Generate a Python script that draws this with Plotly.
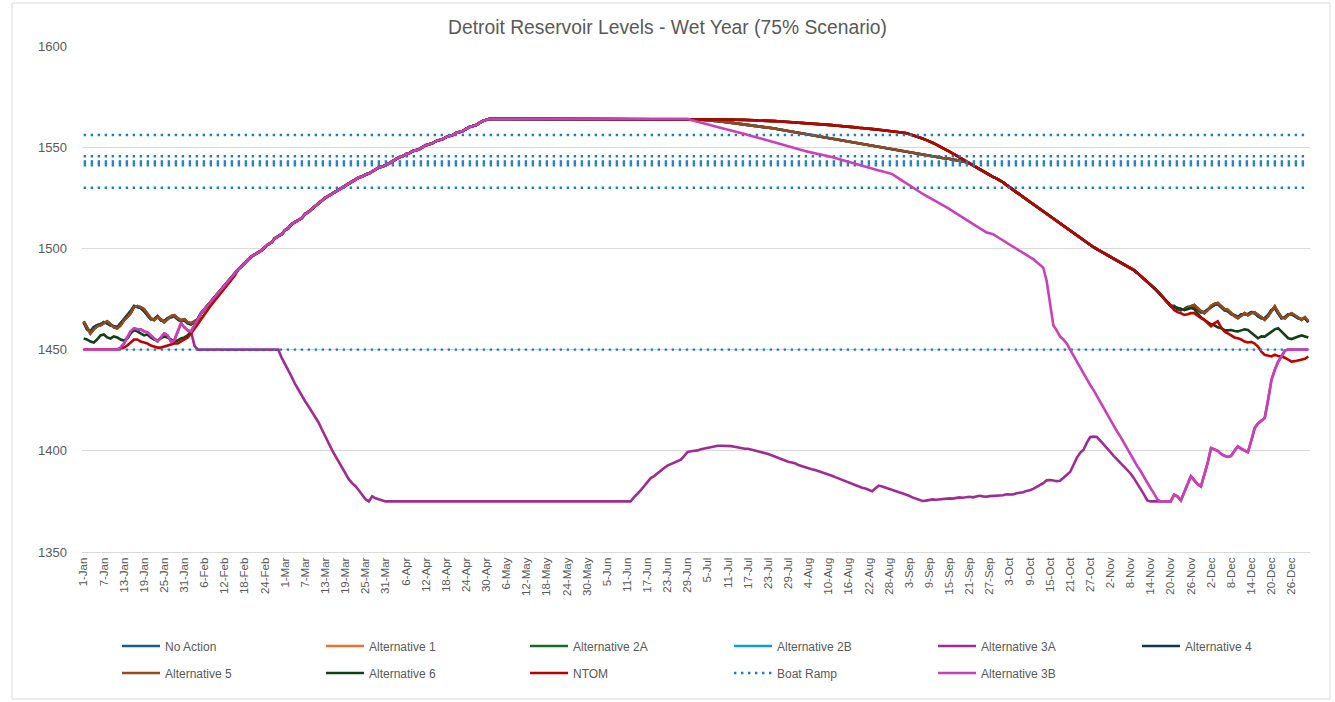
import pandas as pd
import plotly.graph_objects as go

# ---------------- categories (leap-year daily axis) ----------------
days = pd.date_range("2024-01-01", "2024-12-31", freq="D")
dates = [f"{d.day}-{d.strftime('%b')}" for d in days]
tick_labels = dates[::6]

# ---------------- data segments (feet) ----------------
jan_high = [1464, 1461, 1458, 1460, 1461.5, 1462, 1463, 1464, 1462.5, 1461,
            1460.5, 1462, 1464.5, 1466, 1468, 1471, 1471.5, 1471, 1470, 1467.5,
            1465.5, 1464.5, 1466, 1465, 1463.5, 1465, 1466.5, 1467, 1465.5, 1464.5,
            1465, 1463.5, 1463, 1464]
jan_high_b = [1463.5, 1460, 1459, 1461, 1462, 1462.5, 1463.5, 1463, 1462, 1461.5,
              1461, 1463, 1465, 1466.5, 1469, 1471.5, 1471, 1470.5, 1469, 1467,
              1465, 1465, 1466.5, 1464.5, 1464, 1465.5, 1466, 1466.5, 1465, 1464,
              1464.5, 1463, 1462.5, 1464]
jan_alt6 = [1455.5, 1455, 1454, 1453.5, 1455, 1457, 1457.5, 1456, 1455.5, 1456.5,
            1456, 1455, 1454.5, 1455.5, 1458, 1459.5, 1459, 1458, 1457, 1457.5,
            1456, 1455, 1454.5, 1455.5, 1456.5, 1456, 1455, 1454, 1454.5, 1455.5,
            1456, 1457, 1459, 1462]
ntom_winter = [1450, 1450, 1450, 1450, 1450, 1450, 1450, 1450, 1450, 1450,
               1450, 1450.5, 1451, 1452, 1453.5, 1455, 1455, 1454, 1453.5, 1453,
               1452, 1451.5, 1451, 1451, 1451.5, 1452, 1452.5, 1453, 1453, 1454,
               1455, 1456, 1458, 1460, 1462.5, 1465, 1467.5, 1470, 1472, 1474,
               1476, 1478, 1480, 1482, 1484.5, 1486.5]
refill = [1465, 1468, 1470, 1472, 1474, 1476, 1478, 1480, 1482, 1484,
          1486, 1488, 1489.5, 1491, 1493, 1494.5, 1496, 1497, 1498, 1499,
          1500.5, 1502, 1503, 1505, 1506, 1507, 1509, 1510, 1512, 1513,
          1514, 1515, 1517, 1518, 1519.5, 1521, 1522.5, 1524, 1525, 1526,
          1527, 1528, 1529, 1530, 1531, 1532, 1533, 1534, 1535, 1535.5,
          1536.5, 1537, 1538, 1539, 1540, 1540.5, 1541, 1542, 1543, 1544,
          1545, 1545.5, 1546.5, 1547, 1548, 1548.5, 1549, 1550, 1551, 1551.5,
          1552, 1553, 1553.5, 1554, 1555, 1555.5, 1556, 1557, 1557.5, 1558,
          1559, 1560, 1560.5, 1561, 1562, 1563, 1563.5]
full_pool = [1564, 1564, 1564, 1564, 1564, 1564, 1564, 1564, 1564, 1564,
             1564, 1564, 1564, 1564, 1564, 1564, 1564, 1564, 1564, 1564,
             1564, 1564, 1564, 1564, 1564, 1564, 1564, 1564, 1564, 1564,
             1564, 1564, 1564, 1564, 1564, 1564, 1564, 1564, 1564, 1564,
             1564, 1564, 1564, 1564, 1564, 1564, 1564, 1564, 1564, 1564,
             1564, 1564, 1564, 1564, 1564, 1564, 1564, 1564, 1564, 1564]
summer_upper = [1564, 1564, 1564, 1563.9, 1563.9, 1563.9, 1563.8, 1563.8, 1563.8, 1563.8,
                1563.7, 1563.7, 1563.7, 1563.6, 1563.6, 1563.5, 1563.5, 1563.4, 1563.4, 1563.3,
                1563.2, 1563.2, 1563.1, 1563.1, 1563, 1562.9, 1562.8, 1562.7, 1562.6, 1562.5,
                1562.4, 1562.3, 1562.2, 1562.1, 1562, 1561.9, 1561.7, 1561.6, 1561.4, 1561.3,
                1561.2, 1561, 1560.9, 1560.7, 1560.6, 1560.4, 1560.3, 1560.1, 1560, 1559.8,
                1559.6, 1559.5, 1559.3, 1559.2, 1559, 1558.8, 1558.6, 1558.4, 1558.2, 1558,
                1557.8, 1557.7, 1557.5, 1557.2, 1557, 1556.5, 1556, 1555.5, 1555, 1554.3,
                1553.6, 1553, 1552.2, 1551.4, 1550.6, 1549.8, 1548.9, 1548, 1547, 1546,
                1545, 1544, 1543]
summer_lower = [1563.9, 1563.8, 1563.7, 1563.6, 1563.5, 1563.3, 1563.2, 1563, 1562.9, 1562.7,
                1562.5, 1562.3, 1562.1, 1561.9, 1561.7, 1561.5, 1561.3, 1561.1, 1560.9, 1560.7,
                1560.5, 1560.2, 1560, 1559.7, 1559.5, 1559.2, 1558.9, 1558.6, 1558.3, 1558,
                1557.7, 1557.4, 1557.1, 1556.8, 1556.5, 1556.2, 1555.9, 1555.6, 1555.3, 1555,
                1554.7, 1554.4, 1554.2, 1553.9, 1553.6, 1553.3, 1553, 1552.8, 1552.5, 1552.2,
                1551.9, 1551.6, 1551.4, 1551.1, 1550.8, 1550.5, 1550.2, 1549.9, 1549.6, 1549.3,
                1549, 1548.7, 1548.4, 1548.1, 1547.8, 1547.5, 1547.2, 1546.9, 1546.5, 1546.2,
                1546, 1545.7, 1545.5, 1545.2, 1545, 1544.7, 1544.5, 1544.2, 1544, 1543.8,
                1543.4, 1543, 1542.5]
fall_drawdown = [1542, 1541, 1540, 1539, 1538, 1537, 1536, 1535.3, 1534.6, 1533.8,
                 1532.7, 1531.4, 1530.1, 1529, 1527.8, 1526.6, 1525.4, 1524.2, 1523, 1521.8,
                 1520.7, 1519.5, 1518.3, 1517.2, 1516, 1514.8, 1513.6, 1512.4, 1511.2, 1510,
                 1508.8, 1507.6, 1506.5, 1505.3, 1504.1, 1502.9, 1501.7, 1500.6, 1499.6, 1498.7,
                 1497.8, 1496.9, 1495.9, 1495, 1494.1, 1493.2, 1492.2, 1491.3, 1490.3, 1489.3,
                 1487.9, 1486.5, 1485, 1483.6, 1482.1, 1480.5, 1478.9, 1477.2, 1475.5, 1473.6,
                 1471.6]
dec_high = [1471, 1470.5, 1470, 1469.6, 1470.5, 1471.5, 1472, 1470.5, 1469, 1468,
            1469.5, 1471.5, 1472.5, 1473, 1471.5, 1470, 1469.6, 1468, 1466.5, 1465.5,
            1467, 1468, 1467, 1468, 1468.4, 1467, 1466, 1464.7, 1466.5, 1469,
            1471.3, 1468.5, 1466, 1465.5, 1467, 1468, 1467, 1466, 1464.7, 1466,
            1464]
dec_high_b = [1471.5, 1470, 1469.5, 1470, 1471, 1471, 1471.5, 1470, 1468.5, 1468.5,
              1470, 1471, 1472, 1472.5, 1471, 1469.5, 1469, 1467.5, 1467, 1466,
              1467.5, 1467.5, 1467.5, 1468.5, 1468, 1466.5, 1465.5, 1465.5, 1467, 1469.5,
              1470.5, 1468, 1465.5, 1466, 1467.5, 1467.5, 1466.5, 1465.5, 1465, 1465.5,
              1463.5]
dec_alt6 = [1471, 1470.5, 1470, 1469.6, 1470, 1470.5, 1470, 1468, 1466, 1464.7,
            1463.5, 1462.5, 1462, 1461, 1460.5, 1459.7, 1459.5, 1459.7, 1459.2, 1459,
            1459.5, 1460, 1459.7, 1458.5, 1457, 1455.6, 1456.5, 1456.4, 1457.5, 1458.5,
            1460, 1460.6, 1459, 1457, 1455.6, 1455.2, 1456, 1456.5, 1457, 1456.5,
            1456]
dec_ntom = [1469.6, 1468.5, 1468, 1467.1, 1467.5, 1468, 1468, 1466.5, 1465.5, 1464.7,
            1463, 1461.5, 1463, 1464, 1461, 1459, 1458, 1457, 1456, 1455.6,
            1455, 1454, 1453.5, 1453.8, 1453, 1451.5, 1449, 1447.4, 1447, 1446.6,
            1447.5, 1446.8, 1446.6, 1446, 1445, 1444.1, 1444.3, 1444.6, 1445, 1445.5,
            1446.6]
early_3x = [1450, 1450, 1450, 1450, 1450, 1450, 1450, 1450, 1450, 1450,
            1450, 1451, 1453, 1456, 1459, 1460.5, 1460, 1460, 1459, 1458.5,
            1457, 1455, 1454, 1456, 1458, 1457, 1454, 1454.5, 1459, 1463,
            1461, 1459.5, 1459]
alt3a_feb = [1452, 1450, 1450, 1450, 1450, 1450, 1450, 1450, 1450, 1450,
             1450, 1450, 1450, 1450, 1450, 1450, 1450, 1450, 1450, 1450,
             1450, 1450, 1450, 1450, 1450]
alt3a_drawdown = [1450, 1446, 1443, 1440, 1436.5, 1433, 1430, 1427, 1424.5, 1422,
                  1419.5, 1417, 1414, 1410.5, 1407, 1404, 1400.5, 1397.5, 1394.5, 1392,
                  1389, 1386, 1384, 1382.5, 1380.5, 1378, 1376, 1375, 1377.5, 1376.5,
                  1376, 1375.5, 1375]
alt3a_floor = [1375, 1375, 1375, 1375, 1375, 1375, 1375, 1375, 1375, 1375,
               1375, 1375, 1375, 1375, 1375, 1375, 1375, 1375, 1375, 1375,
               1375, 1375, 1375, 1375, 1375, 1375, 1375, 1375, 1375, 1375,
               1375, 1375, 1375, 1375, 1375, 1375, 1375, 1375, 1375, 1375,
               1375, 1375, 1375, 1375, 1375, 1375, 1375, 1375, 1375, 1375,
               1375, 1375, 1375, 1375, 1375, 1375, 1375, 1375, 1375, 1375,
               1375, 1375, 1375, 1375, 1375, 1375, 1375, 1375, 1375, 1375,
               1375, 1375]
alt3a_refill = [1375, 1377, 1378.5, 1380.5, 1382.5, 1384.5, 1386.5, 1387.5, 1389, 1390.5,
                1391.5, 1392.7, 1393.5, 1394, 1394.8, 1395.6, 1397.5, 1399.4]
alt3a_late = [1399.8, 1400, 1400.2, 1400.8, 1401.2, 1401.6, 1402, 1402.3, 1402.5, 1402.5,
              1402.5, 1402.5, 1402.3, 1402, 1401.6, 1401.2, 1401, 1401, 1400.6, 1400.2,
              1399.8, 1399.4, 1399, 1398.4, 1397.8, 1397.2, 1396.4, 1395.7, 1395, 1394.6,
              1394.2, 1393.8, 1393, 1392.4, 1392, 1391.4, 1390.9, 1390.5, 1390, 1389.5,
              1389, 1388.3, 1387.7, 1387, 1386.3, 1385.7, 1385, 1384.4, 1383.8, 1383,
              1382.3, 1381.8, 1381.4, 1380.7, 1380, 1381.5, 1382.8, 1382.4, 1381.8, 1381,
              1380.5, 1380, 1379.5, 1379, 1378.5, 1377.8, 1377, 1376.5, 1375.8, 1375.2,
              1375.4, 1375.8, 1376, 1375.8, 1376, 1376.2, 1376.3, 1376.5, 1376.4, 1376.8,
              1377, 1376.8, 1377, 1377.3, 1377, 1377.5, 1377.8, 1377.5, 1377.3, 1377.6,
              1377.7, 1378, 1377.8, 1378, 1378.5, 1378.6, 1378.4, 1379, 1379.2, 1379.5,
              1380.2, 1380.5, 1381.2, 1382, 1383, 1384, 1385.4, 1385.6, 1385.3, 1385,
              1385.2, 1386.5, 1387.8, 1389.5, 1393, 1396.5, 1399, 1400.5, 1404, 1406.8,
              1407, 1406.8, 1405, 1403, 1401, 1399, 1397.5, 1395.8, 1394, 1392.5,
              1390.7, 1388.8, 1386.5, 1384, 1381.5, 1378.5, 1375.5, 1375, 1375, 1375,
              1375, 1375, 1375, 1375]
alt3b_start = [1462]
alt3b_late = [1563.5, 1563, 1562.5, 1562, 1561.6, 1561.2, 1560.8, 1560.4, 1560, 1559.6,
              1559.2, 1558.8, 1558.4, 1558, 1557.5, 1557, 1556.5, 1556, 1555.6, 1555.2,
              1554.7, 1554.3, 1553.8, 1553.3, 1552.8, 1552.3, 1551.8, 1551.3, 1550.8, 1550.3,
              1549.8, 1549.4, 1548.9, 1548.5, 1548.1, 1547.7, 1547.4, 1547, 1546.6, 1546.3,
              1545.9, 1545.5, 1545.2, 1544.7, 1544.2, 1543.7, 1543.2, 1542.7, 1542.2, 1541.7,
              1541.2, 1540.7, 1540.3, 1539.8, 1539.4, 1539, 1538.5, 1538.1, 1537.6, 1537.1,
              1536.7, 1535.6, 1534.5, 1533.4, 1532.2, 1531.1, 1530, 1528.8, 1527.9, 1527,
              1526.1, 1525.2, 1524.3, 1523.3, 1522.4, 1521.5, 1520.6, 1519.5, 1518.4, 1517.3,
              1516.2, 1515.1, 1514, 1513, 1512, 1511, 1510, 1509, 1508, 1507.5,
              1507, 1506, 1505, 1504, 1503, 1502, 1501, 1500, 1499, 1498,
              1497, 1496, 1494.7, 1493.3, 1492, 1490.5, 1484, 1472, 1462, 1459.5,
              1456.5, 1455, 1453, 1450, 1447, 1444, 1441, 1438.5, 1435.5, 1432.5,
              1430, 1427, 1424.4, 1421.5, 1418.5, 1415.5, 1412.5, 1409.5, 1407, 1404,
              1401.5, 1398.5, 1395.6, 1392.5, 1390, 1387, 1384.5, 1381.5, 1379, 1376,
              1375, 1375, 1375, 1375]
late_3x = [1378.3, 1377.5, 1375.5, 1380, 1383.5, 1387.4, 1385.5, 1383.5, 1382.4, 1388,
           1394, 1401.4, 1400.8, 1400, 1398.5, 1397.5, 1397, 1397.5, 1400, 1402.2,
           1401, 1400, 1399.3, 1405, 1411.2, 1413.5, 1415, 1416.2, 1425, 1435,
           1440, 1444, 1446.6, 1449.5, 1450, 1450, 1450, 1450, 1450, 1450,
           1450]
boat_ramp_levels = [1556, 1545.5, 1543, 1542, 1541, 1530, 1450]

# ---------------- series ----------------
series = [
    ("No Action", "#156082", jan_high_b + refill + full_pool + summer_lower + fall_drawdown + dec_high_b, "legend"),
    ("Alternative 1", "#E97132", jan_high + refill + full_pool + summer_upper + fall_drawdown + dec_high, "legend"),
    ("Alternative 2A", "#196B24", jan_high + refill + full_pool + summer_upper + fall_drawdown + dec_high, "legend"),
    ("Alternative 2B", "#0F9ED5", jan_high_b + refill + full_pool + summer_lower + fall_drawdown + dec_high_b, "legend"),
    ("Alternative 3A", "#A02B93", early_3x + alt3a_feb + alt3a_drawdown + alt3a_floor + alt3a_refill + alt3a_late + late_3x, "legend"),
    ("Alternative 4", "#0D3A4E", jan_high_b + refill + full_pool + summer_lower + fall_drawdown + dec_high_b, "legend"),
    ("Alternative 5", "#99481D", jan_high + refill + full_pool + summer_lower + fall_drawdown + dec_high, "legend2"),
    ("Alternative 6", "#0F4016", jan_alt6 + refill + full_pool + summer_upper + fall_drawdown + dec_alt6, "legend2"),
    ("NTOM", "#C00000", ntom_winter + refill[12:] + full_pool + summer_upper + fall_drawdown + dec_ntom, "legend2"),
]
alt3b = ("Alternative 3B", "#C940B9", early_3x + alt3b_start + refill + full_pool + alt3b_late + late_3x, "legend2")

for name, _, vals, _ in series + [alt3b]:
    assert len(vals) == len(dates), (name, len(vals))

fig = go.Figure()
for name, color, vals, lg in series:
    fig.add_trace(go.Scatter(x=dates, y=vals, name=name, mode="lines", legend=lg,
                             line=dict(color=color, width=2.6)))
for k, lvl in enumerate(boat_ramp_levels):
    fig.add_trace(go.Scatter(x=dates, y=[lvl] * len(dates), name="Boat Ramp", mode="lines",
                             legend="legend2", showlegend=(k == 0),
                             line=dict(color="#1B7CC9", width=2.4, dash="2.4px,4.6px")))
fig.add_trace(go.Scatter(x=dates, y=alt3b[2], name=alt3b[0], mode="lines", legend=alt3b[3],
                         line=dict(color=alt3b[1], width=2.6)))

grey = "#595959"
leg_common = dict(orientation="h", xref="container", yref="container",
                  xanchor="left", yanchor="middle",
                  entrywidth=151, entrywidthmode="pixels", traceorder="normal",
                  font=dict(size=12, color=grey), bgcolor="rgba(0,0,0,0)", itemwidth=38)
fig.update_layout(
    width=1335, height=702,
    margin=dict(l=82, r=25, t=46, b=150, autoexpand=False),
    paper_bgcolor="white", plot_bgcolor="white",
    font=dict(family="Liberation Sans, Arial, sans-serif", color=grey),
    title=dict(text="Detroit Reservoir Levels - Wet Year (75% Scenario)",
               x=0.5, xanchor="center", y=1 - 27 / 702, yanchor="middle",
               font=dict(size=19.3, color=grey)),
    showlegend=True,
    legend=dict(x=117 / 1335, y=1 - 646 / 702, **leg_common),
    legend2=dict(x=117 / 1335, y=1 - 673 / 702, **leg_common),
    xaxis=dict(type="category", range=[-0.5, len(dates) - 0.5], tickmode="array",
               tickvals=tick_labels, ticktext=tick_labels, tickangle=-90,
               tickfont=dict(size=11.5, color=grey), showgrid=False, ticks="",
               showline=True, linecolor="#D9D9D9", linewidth=1, automargin=False),
    yaxis=dict(range=[1350, 1600], dtick=50, tick0=1350, showgrid=True, gridcolor="#D9D9D9",
               gridwidth=1, zeroline=False, tickfont=dict(size=13, color=grey), ticks="",
               ticklabelstandoff=14, automargin=False),
)
fig.add_shape(type="rect", xref="paper", yref="paper",
              x0=(12 - 82) / 1228, x1=(1330 - 82) / 1228,
              y0=(552 - 699) / 506, y1=(552 - 3) / 506,
              line=dict(color="#D9D9D9", width=1), fillcolor="rgba(0,0,0,0)", layer="below")

fig.write_html("out.html", config={"displayModeBar": False},
               post_script="document.body.style.margin='0';document.body.style.overflow='hidden';")
